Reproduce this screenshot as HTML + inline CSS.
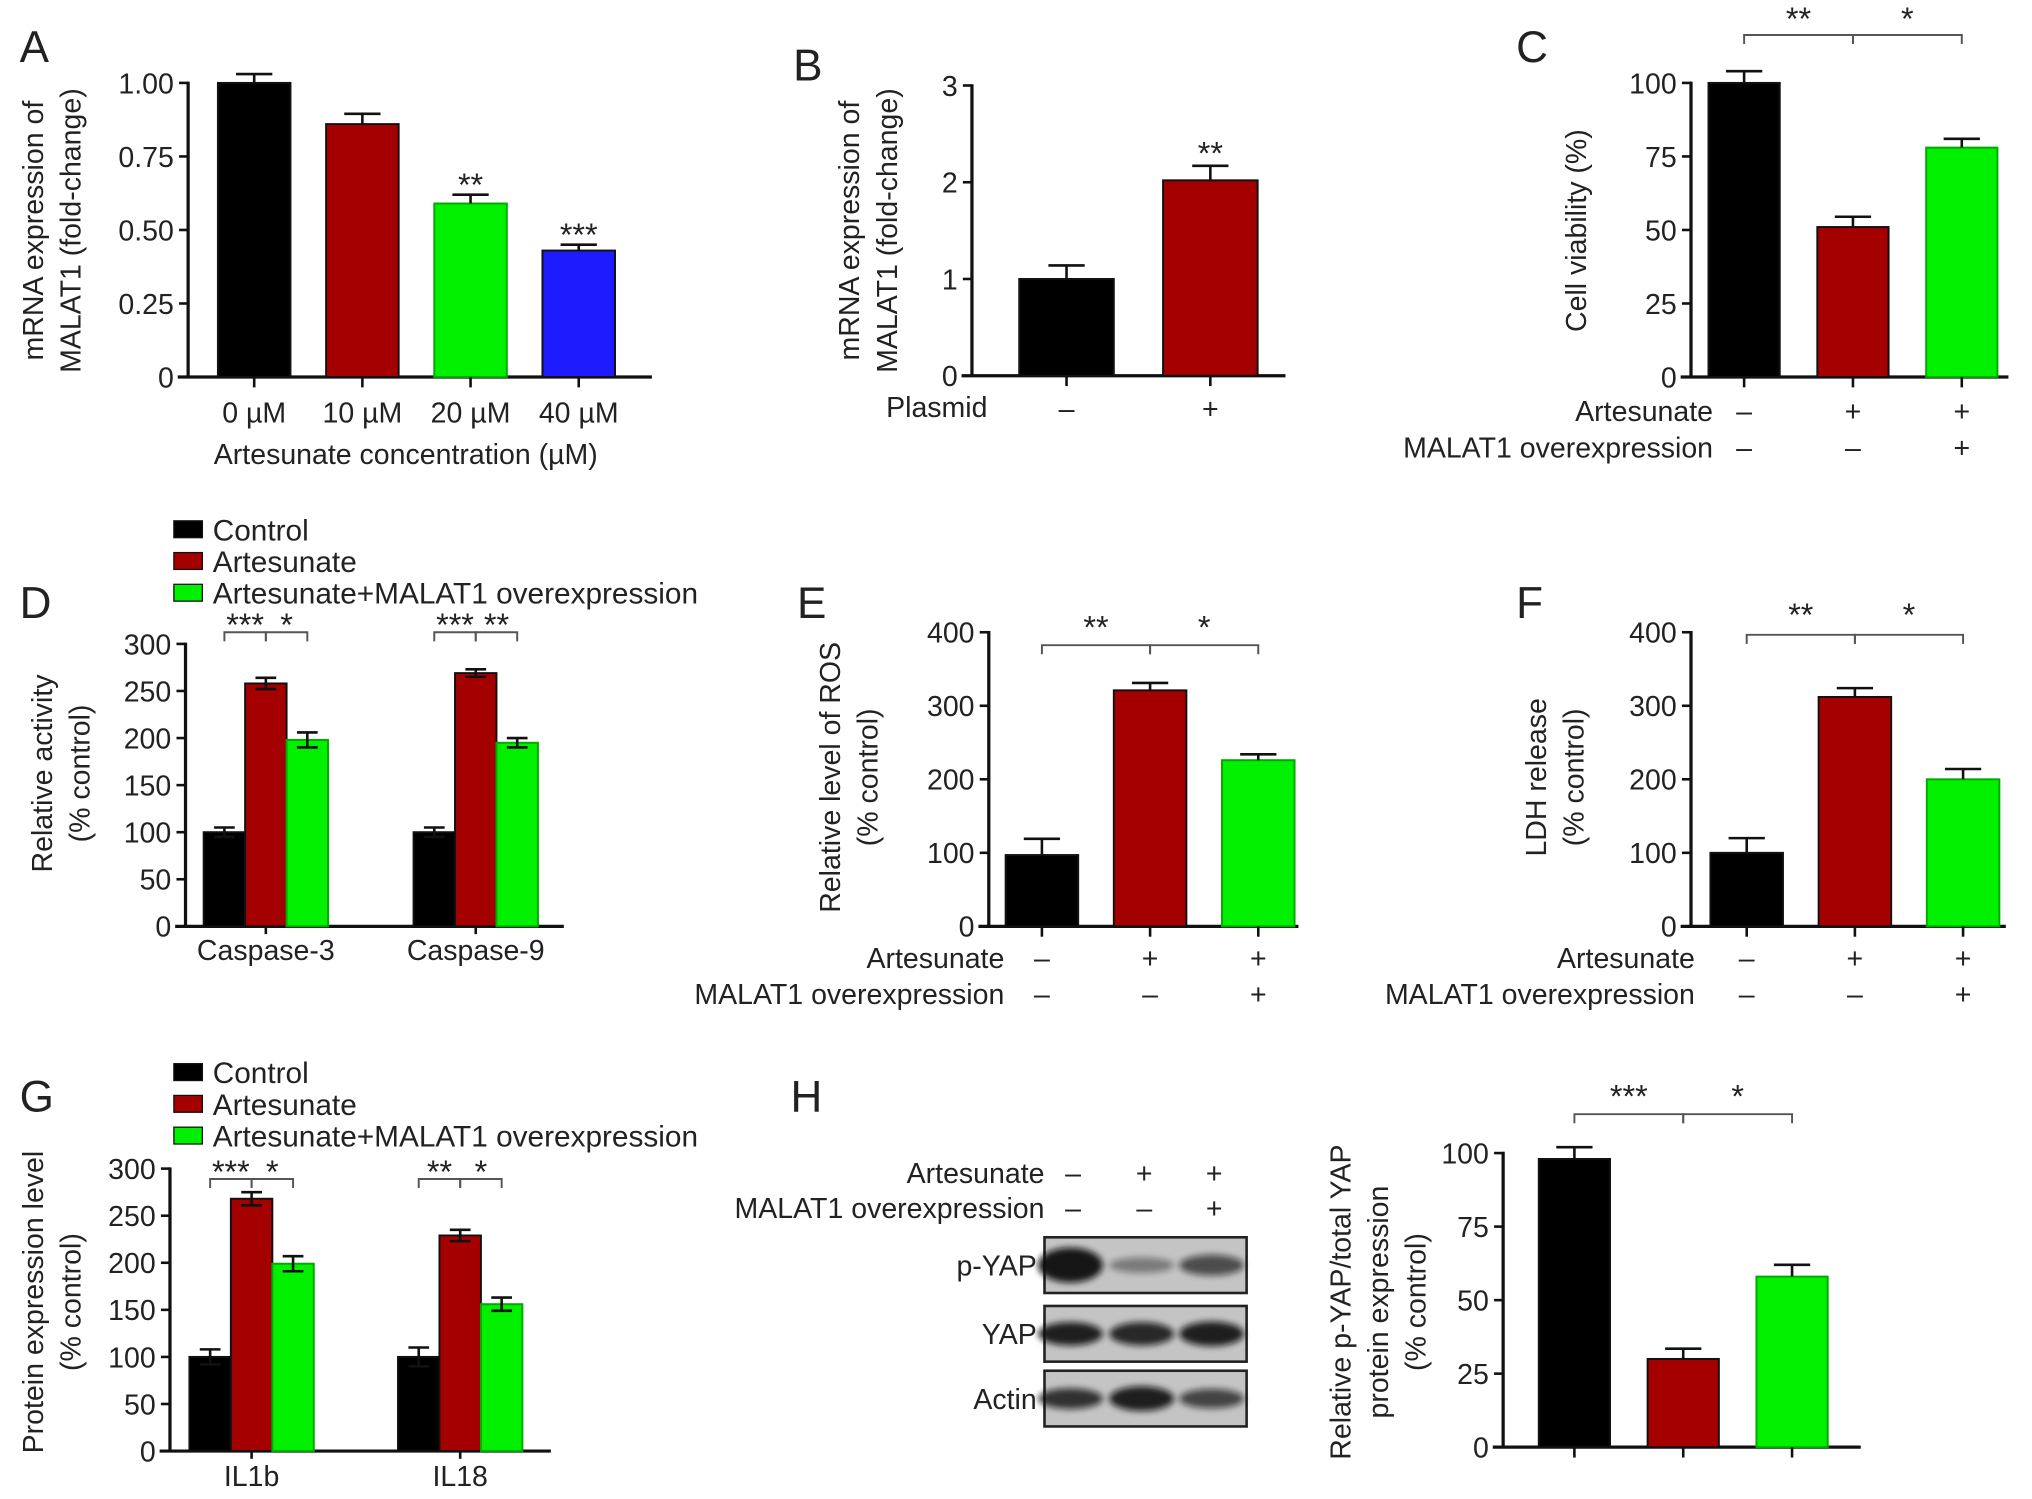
<!DOCTYPE html>
<html><head><meta charset="utf-8"><style>
html,body{margin:0;padding:0;background:#fff}
svg{display:block}
text{font-family:"Liberation Sans",sans-serif;fill:#222}
</style></head><body>
<svg id="fig" width="2032" height="1499" viewBox="0 0 1568 1157" xmlns="http://www.w3.org/2000/svg">
<defs><filter id="blur" x="-50%" y="-50%" width="200%" height="200%"><feGaussianBlur stdDeviation="2.5"/></filter></defs>
</svg>
<script>
// ---- data ----
const aCats=["0 µM","10 µM","20 µM","40 µM"];
const aVals=[1.00,0.86,0.59,0.43];
const aErr=[0.03,0.035,0.03,0.02];
const aTicks=["0","0.25","0.50","0.75","1.00"];
const aStars=["","","**","***"];
const bVals=[1.0,2.02];
const bErr=[0.14,0.15];
const bTicks=["0","1","2","3"];
const bStars=["","**"];
const cVals=[100,51,78];
const cErr=[4,3.5,3];
const cTicks=["0","25","50","75","100"];
const dCats=["Caspase-3","Caspase-9"];
const dCtrl=[100,100];
const dArt=[258,269];
const dMal=[198,195];
const dErrCtrl=[5,5];
const dErrArt=[6,4];
const dErrMal=[8,5];
const dTicks=["0","50","100","150","200","250","300"];
const dSig=[["***","*"],["***","**"]];
const eVals=[97,321,226];
const eErr=[22,10,8];
const eTicks=["0","100","200","300","400"];
const fVals=[100,312,200];
const fErr=[20,12,14];
const fTicks=["0","100","200","300","400"];
const gCats=["IL1b","IL18"];
const gCtrl=[100,100];
const gArt=[268,229];
const gMal=[199,156];
const gErrCtrl=[8,10];
const gErrArt=[7,6];
const gErrMal=[8,7];
const gTicks=["0","50","100","150","200","250","300"];
const gSig=[["***","*"],["**","*"]];
const hVals=[98,30,58];
const hErr=[4,3.5,4];
const hTicks=["0","25","50","75","100"];
const artRow=["–","+","+"];
const malRow=["–","–","+"];

const BLACK="#000",RED="#a50000",GREEN="#00f000",BLUE="#1c1cff";
const FS=22;
const NS="http://www.w3.org/2000/svg";
const svg=document.getElementById('fig');
function mk(tag,attrs,parent,txt){const e=document.createElementNS(NS,tag);for(const k in attrs)e.setAttribute(k,attrs[k]);if(txt!==undefined)e.textContent=txt;(parent||svg).appendChild(e);return e;}
function grp(name){const g=document.createElementNS(NS,'g');


svg.appendChild(g);return g;}
function txt(g,x,y,s,size,anchor,name){const t=mk('text',{x:x,y:y,'font-size':size||FS,'text-anchor':anchor||'middle'},g,s);


return t;}
function stars(g,x,y,s){txt(g,x,y+9,s,25,'middle','significance-stars');}
function vtitle(g,x,yc,lines,name){lines.forEach((l,i)=>{const t=mk('text',{x:0,y:0,'font-size':FS,'text-anchor':'middle',transform:`translate(${x+i*29},${yc}) rotate(-90)`},g,l);

});}
function panelLetter(s,x,y){const g=grp('panel-label-'+s.toLowerCase());txt(g,x,y,s,34,'start','panel-letter');}

function yScale(ax,v){return ax.yB-(v/ax.max)*(ax.yB-ax.yT);}
function axes(g,ax,ticks){
  mk('line',{x1:ax.x0,y1:ax.yT-1,x2:ax.x0,y2:ax.yB,stroke:'#111','stroke-width':2.5},g);
  mk('line',{x1:ax.x0-8,y1:ax.yB,x2:ax.xEnd,y2:ax.yB,stroke:'#111','stroke-width':2.5},g);
  ticks.forEach((t,i)=>{const v=ax.max*i/(ticks.length-1);const y=yScale(ax,v);
    mk('line',{x1:ax.x0-7,y1:y,x2:ax.x0,y2:y,stroke:'#111','stroke-width':2},g);
    txt(g,ax.x0-11,y+8,t,FS,'end','y-tick-label');});
}
function bar(g,ax,cx,w,v,err,color,both,cap,name){
  const y=yScale(ax,v);
  const r=mk('rect',{x:cx-w/2,y:y,width:w,height:ax.yB-y,fill:color,stroke:color===GREEN?'#0a0':'#111','stroke-width':1.5},g);
  
  
  const ye=yScale(ax,v+err),yl=both?yScale(ax,v-err):y;
  mk('line',{x1:cx,y1:ye,x2:cx,y2:yl,stroke:'#111','stroke-width':2},g);
  mk('line',{x1:cx-cap/2,y1:ye,x2:cx+cap/2,y2:ye,stroke:'#111','stroke-width':2},g);
  if(both)mk('line',{x1:cx-cap/2,y1:yl,x2:cx+cap/2,y2:yl,stroke:'#111','stroke-width':2},g);
  return ye;
}
function bracket(g,x1,x2,y,s,sy){
  mk('path',{d:`M${x1},${y+7}V${y}H${x2}V${y+7}`,fill:'none',stroke:'#555','stroke-width':1.5},g);
  stars(g,(x1+x2)/2,sy,s);
}
function signRows(g,centers,yA,yM,labelX){
  txt(g,labelX,yA,'Artesunate',FS,'end','row-label-artesunate');
  txt(g,labelX,yM,'MALAT1 overexpression',FS,'end','row-label-malat1');
  centers.forEach((c,i)=>{txt(g,c,yA,artRow[i],FS,'middle','sign');txt(g,c,yM,malRow[i],FS,'middle','sign');});
}
function singleChart(name,ax,ticks,c0,step,w,vals,errs,colors,cap){
  const g=grp(name);axes(g,ax,ticks);const centers=[];const tops=[];
  vals.forEach((v,i)=>{const cx=c0+i*step;centers.push(cx);
    tops.push(bar(g,ax,cx,w,v,errs[i],colors[i],false,cap,'bar-'+i));
    mk('line',{x1:cx,y1:ax.yB,x2:cx,y2:ax.yB+8,stroke:'#111','stroke-width':2},g);});
  return {g,centers,tops};
}
function groupChart(name,ax,ticks,g0,gstep,w,series,errs,cats,sig,catY,brY){
  const g=grp(name);axes(g,ax,ticks);const cols=[BLACK,RED,GREEN];
  cats.forEach((c,j)=>{const gc=g0+j*gstep;
    const cs=[gc-w,gc,gc+w];
    series.forEach((s,k)=>bar(g,ax,cs[k],w,s[j],errs[k][j],cols[k],true,16,'bar-'+c+'-'+k));
    mk('line',{x1:gc,y1:ax.yB,x2:gc,y2:ax.yB+6,stroke:'#111','stroke-width':2},g);
    txt(g,gc,catY,c,FS,'middle','x-category-label');
    bracket(g,cs[0],cs[1],brY,sig[j][0],brY-6);
    bracket(g,cs[1],cs[2],brY,sig[j][1],brY-6);
  });
}
function legend(name,x,y0){const g=grp(name);
  [["Control",BLACK],["Artesunate",RED],["Artesunate+MALAT1 overexpression",GREEN]].forEach((e,i)=>{
    const y=y0+i*24.5;
    mk('rect',{x:x,y:y-7,width:22,height:13,fill:e[1],stroke:'#111','stroke-width':1},g);
    txt(g,x+30,y+8,e[0],23,'start','legend-entry');});
}

// ---- Panel A ----
panelLetter('A',15,48);
{const ax={x0:145,xEnd:503,yB:291,yT:64,max:1};
 const r=singleChart('panel-a-chart',ax,aTicks,196,83.5,56,aVals,aErr,[BLACK,RED,GREEN,BLUE],28);
 r.centers.forEach((c,i)=>{txt(r.g,c,ax.yB+35,aCats[i],FS,'middle','x-tick-label');if(aStars[i])stars(r.g,c,r.tops[i]-8,aStars[i]);});
 txt(r.g,313,358,'Artesunate concentration (µM)',FS,'middle','x-axis-title');
 vtitle(r.g,33,178,['mRNA expression of','MALAT1 (fold-change)'],'y-axis-title');}

// ---- Panel B ----
panelLetter('B',612,62);
{const ax={x0:750,xEnd:992,yB:290,yT:66,max:3};
 const r=singleChart('panel-b-chart',ax,bTicks,823,111,73,bVals,bErr,[BLACK,RED],28);
 r.centers.forEach((c,i)=>{txt(r.g,c,ax.yB+33,i?'+':'–',FS,'middle','plasmid-sign');if(bStars[i])stars(r.g,c,r.tops[i]-10,bStars[i]);});
 txt(r.g,762,322,'Plasmid',FS,'end','plasmid-label');
 vtitle(r.g,663,178,['mRNA expression of','MALAT1 (fold-change)'],'y-axis-title');}

// ---- Panel C ----
panelLetter('C',1170,48);
{const ax={x0:1305,xEnd:1550,yB:291,yT:64,max:100};
 const r=singleChart('panel-c-chart',ax,cTicks,1346,84,55,cVals,cErr,[BLACK,RED,GREEN],28);
 signRows(r.g,r.centers,325,353,1322);
 bracket(r.g,r.centers[0],r.centers[1],27,'**',14);bracket(r.g,r.centers[1],r.centers[2],27,'*',14);
 vtitle(r.g,1224,178,['Cell viability (%)'],'y-axis-title');}

// ---- Panel D ----
panelLetter('D',15,477);
legend('panel-d-legend',134,409);
{const ax={x0:143,xEnd:435,yB:715,yT:497,max:300};
 groupChart('panel-d-chart',ax,dTicks,205,162,32,[dCtrl,dArt,dMal],[dErrCtrl,dErrArt,dErrMal],dCats,dSig,741,488);
 const g=grp('panel-d-titles');vtitle(g,40,597,['Relative activity','(% control)'],'y-axis-title');}

// ---- Panel E ----
panelLetter('E',615,477);
{const ax={x0:763,xEnd:1002,yB:715,yT:488,max:400};
 const r=singleChart('panel-e-chart',ax,eTicks,804,83.5,56,eVals,eErr,[BLACK,RED,GREEN],28);
 signRows(r.g,r.centers,747,775,775);
 bracket(r.g,r.centers[0],r.centers[1],498,'**',484);bracket(r.g,r.centers[1],r.centers[2],498,'*',484);
 vtitle(r.g,648,600,['Relative level of ROS','(% control)'],'y-axis-title');}

// ---- Panel F ----
panelLetter('F',1170,477);
{const ax={x0:1305,xEnd:1548,yB:715,yT:488,max:400};
 const r=singleChart('panel-f-chart',ax,fTicks,1348,83.5,56,fVals,fErr,[BLACK,RED,GREEN],28);
 signRows(r.g,r.centers,747,775,1308);
 bracket(r.g,r.centers[0],r.centers[1],490,'**',474);bracket(r.g,r.centers[1],r.centers[2],490,'*',474);
 vtitle(r.g,1193,600,['LDH release','(% control)'],'y-axis-title');}

// ---- Panel G ----
panelLetter('G',15,858);
legend('panel-g-legend',134,828);
{const ax={x0:131,xEnd:425,yB:1120,yT:902,max:300};
 groupChart('panel-g-chart',ax,gTicks,194,161,32,[gCtrl,gArt,gMal],[gErrCtrl,gErrArt,gErrMal],gCats,gSig,1147,910);
 const g=grp('panel-g-titles');vtitle(g,33,1005,['Protein expression level','(% control)'],'y-axis-title');}

// ---- Panel H blot ----
panelLetter('H',610,858);
{const g=grp('panel-h-western-blot');
 const lanes=[828,883,937];
 txt(g,806,913,'Artesunate',FS,'end','row-label-artesunate');
 txt(g,806,940,'MALAT1 overexpression',FS,'end','row-label-malat1');
 lanes.forEach((c,i)=>{txt(g,c,913,artRow[i],FS,'middle','sign');txt(g,c,940,malRow[i],FS,'middle','sign');});
 const rows=[["p-YAP",955,[[0.95,1.35],[0.4,0.6],[0.65,0.8]]],["YAP",1008,[[0.9,0.9],[0.85,0.9],[0.9,0.95]]],["Actin",1058,[[0.8,0.8],[0.9,0.95],[0.7,0.75]]]];
 rows.forEach(r=>{const y=r[1],h=43;
   mk('rect',{x:806,y:y,width:156,height:h,fill:'#c4c4c4',stroke:'#222','stroke-width':2},g);
   lanes.forEach((c,i)=>{const op=r[2][i][0],sy=r[2][i][1];
     mk('ellipse',{cx:c-2,cy:y+h/2,rx:25,ry:10*sy,fill:'#111',opacity:op,filter:'url(#blur)'},g);});
   txt(g,800,y+h/2+8,r[0],FS,'end','blot-label');});}

// ---- Panel H chart ----
{const ax={x0:1160,xEnd:1436,yB:1117,yT:890,max:100};
 const r=singleChart('panel-h-chart',ax,hTicks,1215,84,55,hVals,hErr,[BLACK,RED,GREEN],28);
 bracket(r.g,r.centers[0],r.centers[1],860,'***',846);bracket(r.g,r.centers[1],r.centers[2],860,'*',846);
 vtitle(r.g,1042,1005,['Relative p-YAP/total YAP','protein expression','(% control)'],'y-axis-title');}
</script>
</body></html>
